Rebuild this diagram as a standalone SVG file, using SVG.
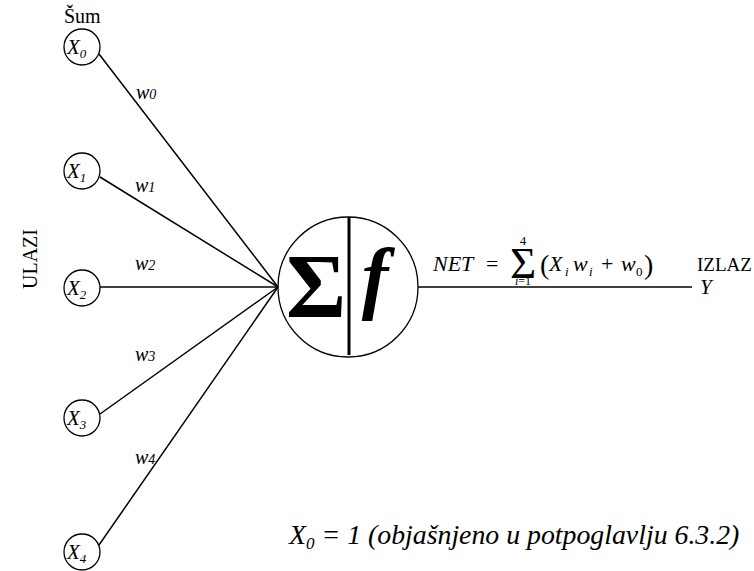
<svg xmlns="http://www.w3.org/2000/svg" width="754" height="571" viewBox="0 0 754 571">
<style>
.t{font-family:"Liberation Serif","Times New Roman",serif;fill:#000}
.i{font-style:italic}
.n{fill:none;stroke:#000;stroke-width:1.3}
.c line{stroke:#000;stroke-width:1.5}
</style>
<rect width="754" height="571" fill="#fff"/>
<text class="t" x="64" y="23" font-size="20">Šum</text>
<text class="t" transform="translate(37,259) rotate(-90)" text-anchor="middle" font-size="20">ULAZI</text>
<g class="c" id="connectors">
<line x1="99" y1="54" x2="278" y2="287"/>
<line x1="100" y1="177" x2="278" y2="287"/>
<line x1="100" y1="287" x2="278" y2="287"/>
<line x1="100" y1="414" x2="278" y2="287"/>
<line x1="99" y1="545" x2="278" y2="287"/>
<line x1="418" y1="287" x2="692" y2="287"/>
</g>
<g id="x0"><circle class="n" cx="82" cy="47" r="18"/><text class="t i" x="67" y="54" font-size="21">X<tspan font-size="13" dy="4">0</tspan></text></g>
<g id="x1"><circle class="n" cx="82" cy="171" r="18"/><text class="t i" x="67" y="178" font-size="21">X<tspan font-size="13" dy="4">1</tspan></text></g>
<g id="x2"><circle class="n" cx="82" cy="288" r="18"/><text class="t i" x="67" y="295" font-size="21">X<tspan font-size="13" dy="4">2</tspan></text></g>
<g id="x3"><circle class="n" cx="82" cy="418" r="18"/><text class="t i" x="67" y="425" font-size="21">X<tspan font-size="13" dy="4">3</tspan></text></g>
<g id="x4"><circle class="n" cx="82" cy="552" r="18"/><text class="t i" x="67" y="559" font-size="21">X<tspan font-size="13" dy="4">4</tspan></text></g>
<g id="weights" class="t i" font-size="20">
<text x="136" y="99">w<tspan font-size="14">0</tspan></text>
<text x="135" y="192">w<tspan font-size="14">1</tspan></text>
<text x="135" y="270">w<tspan font-size="14">2</tspan></text>
<text x="135" y="361">w<tspan font-size="14">3</tspan></text>
<text x="135" y="464">w<tspan font-size="14">4</tspan></text>
</g>
<g id="neuron">
<circle class="n" cx="348" cy="287" r="70"/>
<line x1="349" y1="217" x2="349" y2="355" stroke="#000" stroke-width="3"/>
<text class="t" x="316" y="317" font-size="92" font-weight="bold" text-anchor="middle">Σ</text>
<text class="t i" x="375" y="304" font-size="80" font-weight="bold" text-anchor="middle">f</text>
</g>
<g id="formula" class="t">
<text class="i" x="433" y="271" font-size="22">NET</text>
<text x="486" y="271" font-size="22">=</text>
<text x="523" y="278" font-size="45" text-anchor="middle">Σ</text>
<text x="523" y="245" font-size="13" text-anchor="middle">4</text>
<text x="523" y="285" font-size="12" text-anchor="middle"><tspan font-style="italic">i</tspan>=1</text>
<text x="540" y="274" font-size="28">(</text>
<text class="i" x="549" y="271" font-size="22">X</text>
<text class="i" x="565" y="276" font-size="13">i</text>
<text class="i" x="573" y="271" font-size="22">w</text>
<text class="i" x="589" y="276" font-size="13">i</text>
<text x="601" y="271" font-size="22">+</text>
<text class="i" x="621" y="271" font-size="22">w</text>
<text x="636" y="276" font-size="13">0</text>
<text x="644" y="274" font-size="28">)</text>
<text x="697" y="271" font-size="19">IZLAZ</text>
<text class="i" x="700" y="294" font-size="21">Y</text>
</g>
<text class="t i" x="289" y="544" font-size="27.8">X<tspan font-size="17" dy="5">0</tspan><tspan dy="-5"> = 1 (objašnjeno u potpoglavlju 6.3.2)</tspan></text>
</svg>
